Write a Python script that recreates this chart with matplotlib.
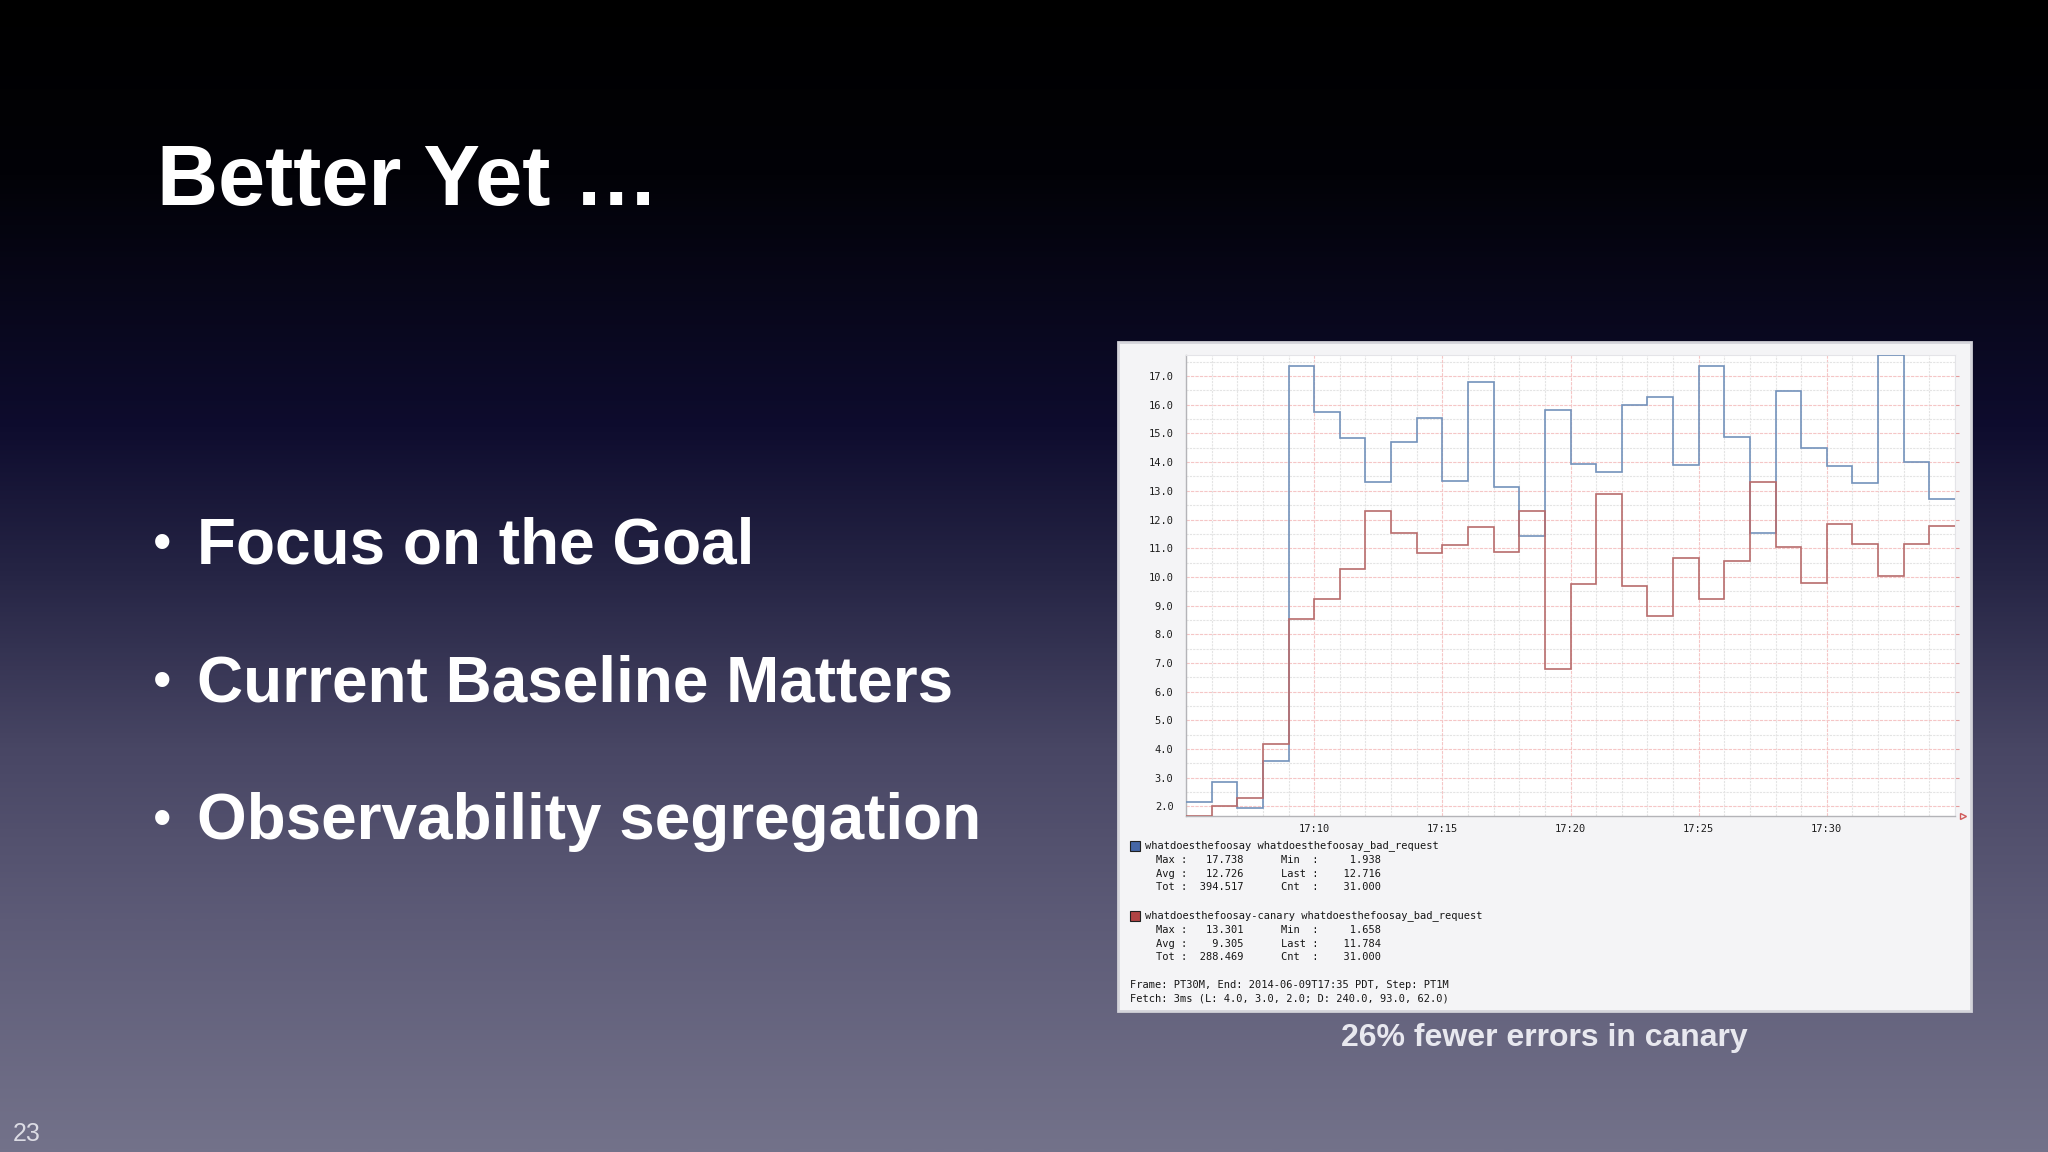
import numpy as np
import matplotlib
matplotlib.use("Agg")
import matplotlib.pyplot as plt
from matplotlib.colors import LinearSegmentedColormap
from matplotlib.patches import Rectangle
from matplotlib.ticker import FixedLocator, MultipleLocator, NullFormatter

# ---------------- data ----------------
start_labels = ["17:05", "17:06", "17:07", "17:08", "17:09", "17:10", "17:11", "17:12",
                "17:13", "17:14", "17:15", "17:16", "17:17", "17:18", "17:19", "17:20",
                "17:21", "17:22", "17:23", "17:24", "17:25", "17:26", "17:27", "17:28",
                "17:29", "17:30", "17:31", "17:32", "17:33", "17:34"]
baseline = [2.15, 2.85, 1.938, 3.59, 17.34, 15.74, 14.84, 13.32, 14.70, 15.55,
            13.36, 16.78, 13.14, 11.43, 15.81, 13.95, 13.66, 15.99, 16.29, 13.91,
            17.34, 14.88, 11.54, 16.47, 14.51, 13.88, 13.28, 17.738, 14.00, 12.716]
canary = [1.658, 2.00, 2.29, 4.18, 8.52, 9.24, 10.27, 12.31, 11.54, 10.83,
          11.11, 11.73, 10.87, 12.31, 6.78, 9.75, 12.90, 9.68, 8.64, 10.64,
          9.24, 10.57, 13.301, 11.03, 9.80, 11.86, 11.14, 10.04, 11.14, 11.784]
x_tick_labels = ["17:10", "17:15", "17:20", "17:25", "17:30"]
y_tick_labels = ["2.0", "3.0", "4.0", "5.0", "6.0", "7.0", "8.0", "9.0", "10.0",
                 "11.0", "12.0", "13.0", "14.0", "15.0", "16.0", "17.0"]
series_names = ["whatdoesthefoosay whatdoesthefoosay_bad_request",
                "whatdoesthefoosay-canary whatdoesthefoosay_bad_request"]
stat_labels_left = ["Max", "Avg", "Tot"]
stat_labels_right = ["Min", "Last", "Cnt"]
baseline_stats_left = ["17.738", "12.726", "394.517"]
baseline_stats_right = ["1.938", "12.716", "31.000"]
canary_stats_left = ["13.301", "9.305", "288.469"]
canary_stats_right = ["1.658", "11.784", "31.000"]
footer_lines = ["Frame: PT30M, End: 2014-06-09T17:35 PDT, Step: PT1M",
                "Fetch: 3ms (L: 4.0, 3.0, 2.0; D: 240.0, 93.0, 62.0)"]
title = "Better Yet \u2026"
bullets = ["Focus on the Goal", "Current Baseline Matters", "Observability segregation"]
caption = "26% fewer errors in canary"
page_number = "23"

# ---------------- figure ----------------
W, H = 2048, 1152
fig = plt.figure(figsize=(W / 100, H / 100), dpi=100)

def fx(x):
    return x / W

def fy(y):
    return 1 - y / H

# background gradient
bg = fig.add_axes([0, 0, 1, 1], zorder=-10)
stops = [(0.0, "#000000"), (0.15, "#020207"), (0.37, "#0e0c2e"), (0.5, "#262545"),
         (0.65, "#484664"), (0.8, "#5d5b77"), (1.0, "#73728a")]
cmap = LinearSegmentedColormap.from_list("slide", stops)
grad = np.linspace(0, 1, 512).reshape(-1, 1)
bg.imshow(grad, aspect="auto", cmap=cmap, extent=[0, 1, 1, 0])
bg.set_xlim(0, 1)
bg.set_ylim(1, 0)
bg.axis("off")

sans = ["Liberation Sans", "DejaVu Sans"]
mono = ["DejaVu Sans Mono"]

# title
fig.text(fx(157), fy(205), title, color="white", fontsize=61, fontweight="bold",
         family=sans, va="baseline", ha="left")

# bullets
for i, b in enumerate(bullets):
    yb = 563 + i * 138
    fig.text(fx(153), fy(yb - 3), "\u2022", color="white", fontsize=38, family=sans,
             va="baseline", ha="left")
    fig.text(fx(197), fy(yb), b, color="white", fontsize=46, fontweight="bold",
             family=sans, va="baseline", ha="left")

# page number
fig.text(fx(13), fy(1141), page_number, color="#dcdce4", fontsize=18, family=sans,
         va="baseline", ha="left")

# caption
fig.text(fx(1544), fy(1046), caption, color="#e8e8ef", fontsize=23, fontweight="bold",
         family=sans, va="baseline", ha="center")

# chart panel
panel = Rectangle((fx(1118), fy(1011)), fx(1971) - fx(1118), fy(342) - fy(1011),
                  transform=fig.transFigure, facecolor="#f4f4f6", edgecolor="#d4d4da",
                  linewidth=2, zorder=0)
fig.patches.append(panel)

# plot axes
left_px, right_px, top_px, bot_px = 1186, 1955, 355, 816
ax = fig.add_axes([fx(left_px), fy(bot_px), fx(right_px) - fx(left_px),
                   fy(top_px) - fy(bot_px)], zorder=2)
ax.set_facecolor("white")
n = len(baseline)
edges = np.arange(n + 1)
ax.stairs(baseline, edges, color="#7392bb", linewidth=1.2, baseline=None, zorder=3)
ax.stairs(canary, edges, color="#b86c6c", linewidth=1.2, baseline=None, zorder=3)

ax.set_xlim(0, n)
ax.set_ylim(min(canary), max(baseline))

xmaj = [start_labels.index(t) for t in x_tick_labels]
ax.xaxis.set_major_locator(FixedLocator(xmaj))
ax.set_xticklabels(x_tick_labels)
ax.xaxis.set_minor_locator(MultipleLocator(1))
ymaj = [float(t) for t in y_tick_labels]
ax.yaxis.set_major_locator(FixedLocator(ymaj))
ax.set_yticklabels(y_tick_labels)
ax.yaxis.set_minor_locator(MultipleLocator(0.5))
ax.yaxis.set_minor_formatter(NullFormatter())

ax.grid(which="minor", color="#e4e4e4", linewidth=0.8, linestyle=(0, (2, 1)), zorder=0)
ax.grid(which="major", color="#f5c6c6", linewidth=0.8, linestyle=(0, (3, 1)), zorder=1)
ax.set_axisbelow(True)

for lab in ax.get_xticklabels() + ax.get_yticklabels():
    lab.set_family(mono)
    lab.set_fontsize(7.5)
    lab.set_color("#1e1e1e")
ax.tick_params(axis="x", which="both", length=0, pad=6)
ax.tick_params(axis="y", which="minor", length=0)
ax.tick_params(axis="y", which="major", left=False, right=True, length=3,
               color="#e49a9a", pad=6)
for s in ["left", "bottom"]:
    ax.spines[s].set_color("#b4b4b8")
    ax.spines[s].set_linewidth(1.0)
for s in ["top", "right"]:
    ax.spines[s].set_color("#e4e4e8")
    ax.spines[s].set_linewidth(0.8)
ax.plot([1.01], [0], transform=ax.transAxes, marker=">", markersize=5,
        markerfacecolor="none", markeredgecolor="#d05a5a", clip_on=False, zorder=5)

# legend text block
fs = 7.5
sq_colors = ["#4566a6", "#b04444"]
header_y = [846, 916]
all_left = [baseline_stats_left, canary_stats_left]
all_right = [baseline_stats_right, canary_stats_right]
for k in range(2):
    hy = header_y[k]
    sq = Rectangle((fx(1130), fy(hy + 5)), fx(10), 10 / H, transform=fig.transFigure,
                   facecolor=sq_colors[k], edgecolor="#202020", linewidth=0.8, zorder=3)
    fig.patches.append(sq)
    fig.text(fx(1145), fy(hy), series_names[k], family=mono, fontsize=fs,
             color="#161616", va="center", ha="left")
    for r in range(3):
        ry = hy + 14 + r * 13.7
        line = f"{stat_labels_left[r]:<4}:{all_left[k][r]:>9}      {stat_labels_right[r]:<5}:{all_right[k][r]:>10}"
        fig.text(fx(1156), fy(ry), line, family=mono, fontsize=fs, color="#161616",
                 va="center", ha="left")
for i, fl in enumerate(footer_lines):
    fig.text(fx(1130), fy(985 + i * 13.5), fl, family=mono, fontsize=fs,
             color="#161616", va="center", ha="left")

fig.savefig("out.png", dpi=100)
